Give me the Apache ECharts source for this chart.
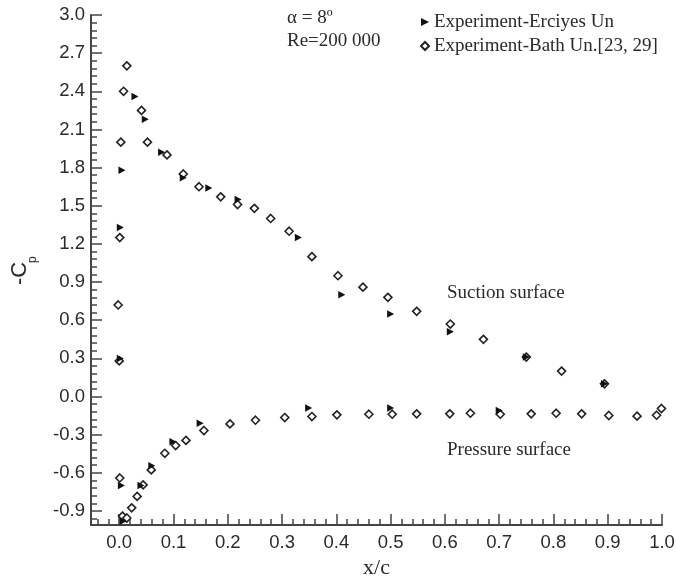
<!DOCTYPE html>
<html>
<head>
<meta charset="utf-8">
<script src="https://cdn.jsdelivr.net/npm/echarts@6/dist/echarts.min.js"></script>
<style>
  html, body { margin: 0; padding: 0; background: #fff; }
  #main { width: 676px; height: 584px; }
</style>
</head>
<body>
<div id="main"></div>
<script>
// Erciyes Un. experiment (filled triangles), [x/c, -Cp]
var erciyesSuction = [[0.002, 0.30], [0.002, 1.33], [0.005, 1.78], [0.029, 2.36], [0.048, 2.18],
    [0.078, 1.92], [0.118, 1.72], [0.165, 1.64], [0.219, 1.55], [0.33, 1.25], [0.41, 0.80],
    [0.50, 0.65], [0.61, 0.51], [0.75, 0.31], [0.894, 0.10]];
var erciyesPressure = [[0.004, -0.70], [0.007, -0.98], [0.04, -0.70], [0.06, -0.545], [0.099, -0.355],
    [0.149, -0.21], [0.349, -0.09], [0.50, -0.09], [0.70, -0.11]];

// Bath Un. experiment (open diamonds)
var bathSuction = [[0.0, 0.28], [-0.002, 0.72], [0.001, 1.25], [0.003, 2.00], [0.008, 2.40],
    [0.014, 2.60], [0.041, 2.25], [0.052, 2.00], [0.088, 1.90], [0.118, 1.75], [0.147, 1.65],
    [0.187, 1.57], [0.218, 1.51], [0.249, 1.48], [0.279, 1.40], [0.313, 1.30], [0.355, 1.10],
    [0.403, 0.95], [0.449, 0.86], [0.495, 0.78], [0.548, 0.67], [0.61, 0.57], [0.671, 0.45],
    [0.75, 0.31], [0.815, 0.20], [0.894, 0.10]];
var bathPressure = [[0.001, -0.64], [0.006, -0.94], [0.014, -0.955], [0.023, -0.875], [0.033, -0.785],
    [0.044, -0.695], [0.059, -0.577], [0.084, -0.446], [0.104, -0.385], [0.123, -0.345],
    [0.156, -0.267], [0.204, -0.215], [0.251, -0.186], [0.305, -0.165], [0.355, -0.157],
    [0.401, -0.144], [0.46, -0.139], [0.503, -0.139], [0.548, -0.136], [0.609, -0.136],
    [0.647, -0.131], [0.702, -0.139], [0.759, -0.136], [0.805, -0.131], [0.852, -0.136],
    [0.902, -0.149], [0.954, -0.154], [0.99, -0.147], [0.999, -0.094]];

// tick labels
var xTicks = [0.0, 0.1, 0.2, 0.3, 0.4, 0.5, 0.6, 0.7, 0.8, 0.9, 1.0];
var yTicks = [-0.9, -0.6, -0.3, 0.0, 0.3, 0.6, 0.9, 1.2, 1.5, 1.8, 2.1, 2.4, 2.7, 3.0];

var xMin = -0.052, xMax = 1.0, yMin = -1.01, yMax = 3.0;

// minor ticks: 0.02 on x, 0.06 on y
var xMinor = [];
for (var i = -2; i <= 50; i++) {
    if (i % 5 !== 0) xMinor.push(Math.round(i * 0.02 * 1000) / 1000);
}
var yMinor = [];
for (var j = -16; j <= 50; j++) {
    if (j % 5 !== 0) yMinor.push(Math.round(j * 0.06 * 1000) / 1000);
}

var axisColor = '#444';
var textColor = '#2a2a2a';
var sansFont = '"Liberation Sans", Arial, sans-serif';
var serifFont = '"Liberation Serif", "Times New Roman", serif';
var triangle = 'path://M0,0L10,5L0,10Z';

var myChart = echarts.init(document.getElementById('main'));

var option = {
    backgroundColor: '#fff',
    animation: false,
    grid: {
        left: 91, right: 14, top: 15, bottom: 59,
        containLabel: false,
        outerBoundsMode: 'none'
    },
    legend: {
        orient: 'vertical',
        left: 415,
        top: 7,
        itemWidth: 8,
        itemHeight: 8,
        itemGap: 4,
        textStyle: {
            fontFamily: serifFont,
            fontSize: 19,
            color: textColor,
            lineHeight: 20
        },
        data: ['Experiment-Erciyes Un', 'Experiment-Bath Un.[23, 29]']
    },
    xAxis: [{
        type: 'value',
        min: xMin, max: xMax,
        name: 'x/c',
        nameLocation: 'middle',
        nameGap: 28,
        nameTextStyle: { fontFamily: serifFont, fontSize: 22, color: textColor },
        axisLine: { onZero: false, lineStyle: { color: axisColor, width: 2 } },
        axisTick: { inside: true, length: 11, customValues: xTicks, lineStyle: { color: axisColor, width: 1.5 } },
        axisLabel: {
            customValues: xTicks, margin: 8,
            fontFamily: sansFont, fontSize: 18.5, color: textColor,
            formatter: function (v) { return v.toFixed(1); }
        },
        splitLine: { show: false }
    }, {
        type: 'value',
        position: 'bottom',
        min: xMin, max: xMax,
        axisLine: { show: false, onZero: false },
        axisTick: { inside: true, length: 6, customValues: xMinor, lineStyle: { color: axisColor, width: 1.5 } },
        axisLabel: { show: false },
        splitLine: { show: false }
    }],
    yAxis: [{
        type: 'value',
        min: yMin, max: yMax,
        axisLine: { onZero: false, lineStyle: { color: axisColor, width: 2 } },
        axisTick: { inside: true, length: 11, customValues: yTicks, lineStyle: { color: axisColor, width: 1.5 } },
        axisLabel: {
            customValues: yTicks, margin: 6,
            fontFamily: sansFont, fontSize: 18.5, color: textColor,
            formatter: function (v) { return v.toFixed(1); }
        },
        splitLine: { show: false }
    }, {
        type: 'value',
        position: 'left',
        min: yMin, max: yMax,
        axisLine: { show: false, onZero: false },
        axisTick: { inside: true, length: 6, customValues: yMinor, lineStyle: { color: axisColor, width: 1.5 } },
        axisLabel: { show: false },
        splitLine: { show: false }
    }],
    series: [{
        name: 'Experiment-Bath Un.[23, 29]',
        type: 'scatter',
        symbol: 'diamond',
        symbolSize: 8,
        itemStyle: { color: '#fff', borderColor: '#222', borderWidth: 1.6, opacity: 1 },
        data: bathSuction.concat(bathPressure)
    }, {
        name: 'Experiment-Erciyes Un',
        type: 'scatter',
        symbol: triangle,
        symbolSize: [7, 7.5],
        itemStyle: { color: '#111', opacity: 1 },
        data: erciyesSuction.concat(erciyesPressure)
    }],
    graphic: [
        { type: 'text', x: 287, y: 18, style: { text: 'α = 8º', font: '19px ' + serifFont, fill: textColor, verticalAlign: 'middle' } },
        { type: 'text', x: 287, y: 41, style: { text: 'Re=200 000', font: '19px ' + serifFont, fill: textColor, verticalAlign: 'middle' } },
        { type: 'text', x: 447, y: 293, style: { text: 'Suction surface', font: '19px ' + serifFont, fill: textColor, verticalAlign: 'middle' } },
        { type: 'text', x: 447, y: 450, style: { text: 'Pressure surface', font: '19px ' + serifFont, fill: textColor, verticalAlign: 'middle' } },
        {
            type: 'group', x: 20, y: 285, rotation: Math.PI / 2,
            children: [
                { type: 'text', x: 0, y: 0, style: { text: '-C', font: '22px ' + sansFont, fill: textColor, verticalAlign: 'middle' } },
                { type: 'text', x: 22, y: 13, style: { text: 'p', font: '12px ' + sansFont, fill: textColor, verticalAlign: 'middle' } }
            ]
        }
    ]
};

myChart.setOption(option);
</script>
</body>
</html>
